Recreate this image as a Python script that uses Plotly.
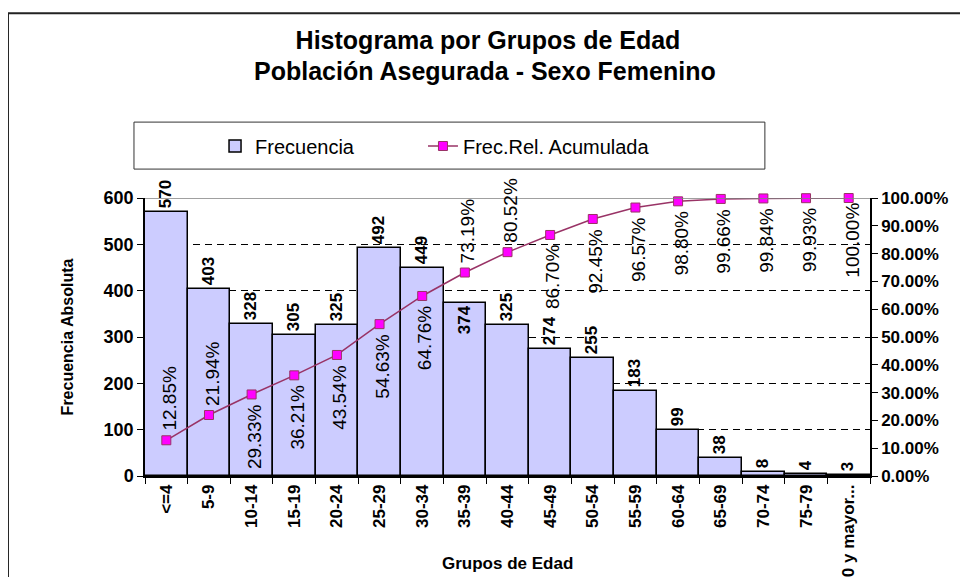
import plotly.graph_objects as go

categories = ["<=4", "5-9", "10-14", "15-19", "20-24", "25-29", "30-34", "35-39",
              "40-44", "45-49", "50-54", "55-59", "60-64", "65-69", "70-74", "75-79",
              "80 y mayor..."]
frecuencia = [570, 403, 328, 305, 325, 492, 449, 374, 325, 274, 255, 183, 99, 38, 8, 4, 3]
frec_rel_acum = [12.85, 21.94, 29.33, 36.21, 43.54, 54.63, 64.76, 73.19, 80.52, 86.70,
                 92.45, 96.57, 98.80, 99.66, 99.84, 99.93, 100.00]
# label side for the cumulative percentage labels (1 = above marker, -1 = below)
pct_label_side = [1, 1, -1, -1, -1, -1, -1, 1, 1, -1, -1, -1, -1, -1, -1, -1, -1]
# value label placement for the bars
bar_label_pos = ["outside"] * 7 + ["inside"] + ["outside"] * 9

FONT = "Arial, Liberation Sans, sans-serif"

fig = go.Figure()
fig.add_trace(go.Bar(
    x=categories, y=frecuencia, name="Frecuencia", legend="legend",
    marker=dict(color="#CCCCFF", line=dict(color="black", width=1.5)),
    text=[str(v) for v in frecuencia], textposition=bar_label_pos, textangle=-90,
    insidetextanchor="end",
    textfont=dict(family=FONT, size=17, color="black", weight="bold"),
    constraintext="none", cliponaxis=False,
))
fig.add_trace(go.Scatter(
    x=categories, y=[p / 100 for p in frec_rel_acum], name="Frec.Rel. Acumulada",
    yaxis="y2", mode="lines+markers", legend="legend2",
    line=dict(color="#993366", width=1.5),
    marker=dict(symbol="square", size=9, color="#FF00FF",
                line=dict(color="#993366", width=1)),
    cliponaxis=False,
))

annotations = []
for c, p, s in zip(categories, frec_rel_acum, pct_label_side):
    annotations.append(dict(
        x=c, y=p / 100, xref="x", yref="y2", text=f"{p:.2f}%",
        showarrow=False, textangle=-90, xshift=3, yshift=42 * s,
        font=dict(family=FONT, size=19, color="black"),
    ))
annotations.append(dict(
    x=0.5, y=-0.315, xref="paper", yref="paper", text="Grupos de Edad",
    showarrow=False, yanchor="middle",
    font=dict(family=FONT, size=17, color="black", weight="bold"),
))
# second title line
annotations.append(dict(
    x=0.469, xref="paper", y=1.4568, yref="paper", xanchor="center", yanchor="middle",
    text="Población Asegurada - Sexo Femenino", showarrow=False,
    font=dict(family=FONT, size=25, color="black", weight="bold"),
))

shapes = [
    # outer chart border
    dict(type="rect", xref="paper", yref="paper", x0=-0.189, x1=1.3, y0=-0.6, y1=1.665,
         line=dict(color="#222222", width=2), fillcolor="rgba(0,0,0,0)", layer="below"),
    # legend box
    dict(type="rect", xref="paper", yref="paper", x0=-0.0152, x1=0.855, y0=1.104, y1=1.273,
         line=dict(color="#333333", width=1), fillcolor="white", layer="below"),
    # top border of plot area
    dict(type="line", xref="paper", yref="y", x0=0, x1=1, y0=600, y1=600,
         line=dict(color="#808080", width=1.5)),
]

legend_common = dict(orientation="h", xanchor="left", y=1.187, yanchor="middle",
                     bgcolor="rgba(0,0,0,0)", borderwidth=0,
                     font=dict(family=FONT, size=20, color="black"))

fig.update_layout(
    width=960, height=569,
    margin=dict(l=137, r=98, t=190, b=101),
    paper_bgcolor="white", plot_bgcolor="white",
    font=dict(family=FONT, color="black"),
    title=dict(text="Histograma por Grupos de Edad",
               x=0.5, xanchor="center", yref="container", y=0.9438, yanchor="middle",
               font=dict(family=FONT, size=25, color="black", weight="bold")),
    bargap=0,
    showlegend=True,
    legend=dict(x=0.0966, **legend_common),
    legend2=dict(x=0.3834, **legend_common),
    xaxis=dict(type="category", range=[-0.5, len(categories) - 0.5],
               tickangle=-90, tickson="boundaries",
               ticks="outside", ticklen=6, tickcolor="black",
               showline=True, linecolor="black", linewidth=1.5,
               showgrid=False, automargin=False,
               tickfont=dict(family=FONT, size=17, color="black", weight="bold")),
    yaxis=dict(range=[0, 600], dtick=100, ticks="outside", ticklen=6, tickcolor="black",
               showline=True, linecolor="black", linewidth=1.5,
               showgrid=True, gridcolor="black", gridwidth=1, griddash="7px,5px",
               zeroline=False, automargin=False,
               title=dict(text="Frecuencia Absoluta", standoff=26,
                          font=dict(family=FONT, size=16, color="black", weight="bold")),
               tickfont=dict(family=FONT, size=18, color="black", weight="bold")),
    yaxis2=dict(range=[0, 1], dtick=0.1, tickformat=".2%", overlaying="y", side="right",
                ticks="outside", ticklen=6, tickcolor="black",
                showline=True, linecolor="black", linewidth=1.5,
                showgrid=False, zeroline=False, automargin=False,
                tickfont=dict(family=FONT, size=17, color="black", weight="bold")),
    annotations=annotations,
    shapes=shapes,
)

fig.write_html("out.html")
